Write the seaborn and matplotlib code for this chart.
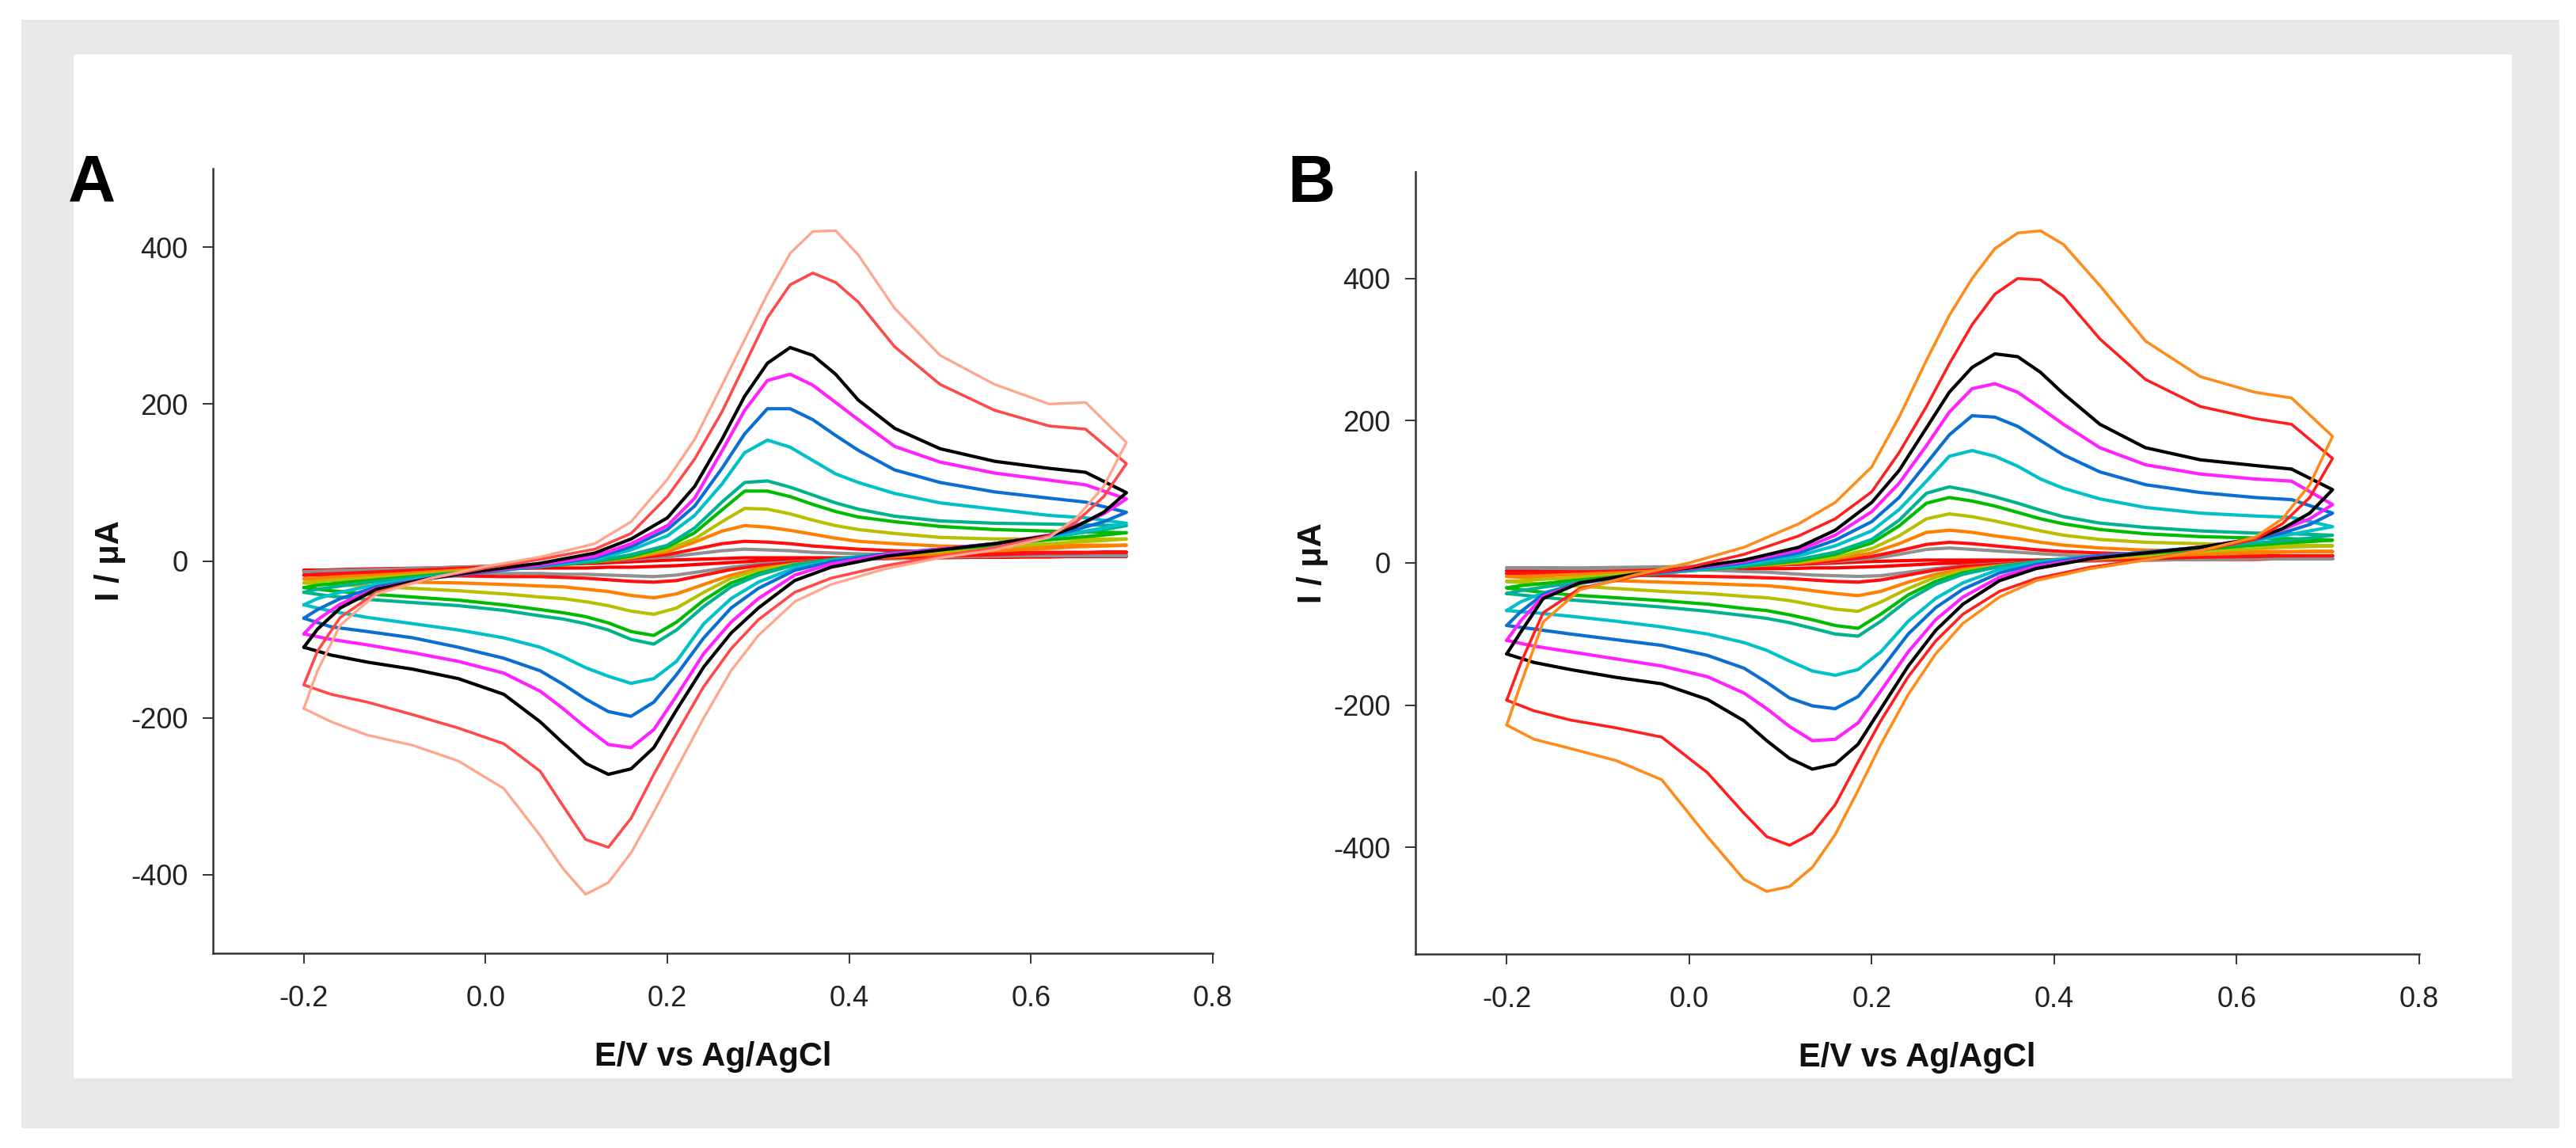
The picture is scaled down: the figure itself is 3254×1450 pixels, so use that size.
import matplotlib
matplotlib.use('Agg')
import matplotlib.pyplot as plt
from matplotlib.patches import Rectangle
import pandas as pd
import seaborn as sns

sns.set_theme(style='white')
plt.rcParams['font.family'] = ['Liberation Sans', 'DejaVu Sans']
plt.rcParams['axes.unicode_minus'] = False

# potential grid: forward scan (-0.2 -> 0.7 V) and reverse scan (0.7 -> -0.2 V)
E_FWD = [-0.2, -0.185, -0.16, -0.12, -0.06, 0.0, 0.06, 0.12, 0.16, 0.2, 0.23,
         0.26, 0.285, 0.31, 0.335, 0.36, 0.385, 0.41,
         0.45, 0.5, 0.56, 0.62, 0.66, 0.705]
E_REV = [0.705, 0.68, 0.65, 0.62, 0.56, 0.5, 0.44, 0.38, 0.34, 0.3, 0.27, 0.24,
         0.21, 0.185, 0.16, 0.135, 0.11, 0.085, 0.06,
         0.02, -0.03, -0.08, -0.13, -0.17, -0.2]

X_TICKS = [-0.2, 0.0, 0.2, 0.4, 0.6, 0.8]
Y_TICKS = [-400, -200, 0, 200, 400]

# ---- panel A currents (uA) ----
a_red1_fwd = [-12, -12, -11, -10, -9, -7, -5, -3, -1, 1, 2, 3, 4, 4, 4, 4, 4, 4, 5, 5, 5, 6, 6, 6]
a_red1_rev = [6, 6, 6, 5, 5, 4, 3, 2, 1, 0, -2, -4, -6, -7, -8, -8, -9, -9, -9, -10, -10, -11, -11, -12, -12]
a_gray_fwd = [-14, -13, -12, -11, -9, -7, -4, -1, 2, 5, 9, 13, 15, 14, 13, 11, 10, 9, 8, 7, 7, 7, 7, 7]
a_gray_rev = [7, 7, 7, 7, 6, 5, 3, 1, -1, -4, -8, -13, -18, -20, -19, -18, -17, -17, -16, -16, -15, -15, -15, -14, -14]
a_red2_fwd = [-18, -17, -16, -14, -11, -8, -5, -1, 3, 8, 15, 22, 25, 24, 22, 19, 17, 15, 13, 12, 11, 11, 11, 11]
a_red2_rev = [11, 11, 10, 10, 8, 6, 4, 1, -2, -6, -11, -18, -25, -27, -26, -24, -22, -21, -20, -20, -19, -19, -18, -18, -18]
a_orange_fwd = [-23, -22, -20, -18, -14, -10, -6, -1, 4, 12, 24, 38, 45, 43, 39, 34, 29, 25, 22, 19, 18, 19, 20, 20]
a_orange_rev = [20, 19, 18, 16, 13, 9, 5, 0, -4, -10, -18, -30, -42, -47, -44, -39, -36, -33, -32, -30, -28, -27, -25, -24, -23]
a_olive_fwd = [-28, -26, -24, -21, -16, -11, -6, -1, 5, 15, 28, 50, 67, 66, 60, 52, 45, 40, 35, 30, 28, 28, 28, 28]
a_olive_rev = [28, 26, 24, 22, 17, 12, 7, 1, -4, -12, -22, -40, -60, -68, -64, -57, -52, -48, -46, -42, -38, -35, -32, -30, -28]
a_green_fwd = [-34, -31, -28, -24, -18, -12, -7, -1, 6, 18, 36, 65, 89, 89, 82, 72, 63, 56, 50, 44, 40, 38, 37, 36]
a_green_rev = [36, 33, 30, 27, 20, 14, 8, 1, -5, -16, -28, -50, -78, -95, -90, -79, -71, -66, -62, -56, -50, -46, -42, -38, -34]
a_teal_fwd = [-40, -36, -32, -26, -19, -13, -7, 0, 8, 20, 42, 75, 100, 102, 94, 84, 74, 66, 57, 51, 48, 47, 46, 45]
a_teal_rev = [45, 40, 35, 30, 22, 15, 9, 2, -5, -18, -33, -58, -88, -106, -100, -88, -80, -74, -70, -63, -57, -53, -49, -45, -40]
a_cyan_fwd = [-56, -48, -40, -30, -21, -14, -7, 2, 14, 32, 58, 98, 138, 154, 145, 128, 111, 100, 86, 74, 66, 58, 55, 48]
a_cyan_rev = [48, 42, 36, 31, 22, 15, 9, 0, -9, -27, -48, -80, -128, -150, -156, -147, -136, -122, -110, -98, -88, -80, -72, -64, -56]
a_blue_fwd = [-73, -62, -48, -33, -22, -14, -6, 4, 18, 40, 70, 118, 162, 194, 194, 180, 160, 141, 116, 100, 88, 80, 75, 62]
a_blue_rev = [62, 50, 40, 32, 22, 15, 9, -1, -12, -35, -60, -98, -145, -180, -198, -192, -176, -157, -140, -124, -110, -98, -90, -84, -73]
a_magenta_fwd = [-93, -75, -55, -35, -22, -13, -5, 6, 22, 45, 80, 140, 192, 230, 238, 224, 202, 180, 146, 126, 112, 103, 97, 79]
a_magenta_rev = [79, 60, 45, 33, 22, 15, 8, -4, -18, -48, -78, -118, -172, -215, -238, -234, -212, -188, -166, -143, -128, -117, -107, -100, -93]
a_black_fwd = [-110, -87, -60, -36, -22, -12, -3, 10, 28, 55, 95, 155, 210, 252, 272, 262, 238, 205, 169, 143, 127, 118, 113, 87]
a_black_rev = [87, 62, 44, 32, 22, 14, 6, -8, -25, -60, -92, -135, -190, -238, -265, -272, -258, -232, -205, -170, -150, -138, -129, -120, -110]
a_red3_fwd = [-158, -115, -72, -40, -22, -9, 2, 15, 35, 82, 130, 190, 250, 310, 352, 367, 355, 330, 273, 225, 192, 172, 168, 124]
a_red3_rev = [124, 82, 50, 32, 17, 6, -6, -22, -40, -75, -112, -160, -220, -272, -328, -365, -355, -312, -268, -233, -213, -196, -180, -170, -158]
a_salmon_fwd = [-188, -140, -82, -42, -22, -7, 5, 22, 50, 104, 155, 224, 282, 340, 392, 420, 421, 390, 322, 262, 225, 200, 202, 151]
a_salmon_rev = [151, 95, 55, 30, 14, 4, -10, -30, -52, -95, -140, -200, -265, -320, -372, -410, -425, -392, -350, -290, -255, -235, -222, -205, -188]

# ---- panel B currents (uA) ----
b_red1_fwd = [-11, -11, -10, -9, -8, -6, -4, -2, 0, 2, 3, 4, 4, 4, 4, 4, 4, 5, 5, 5, 6, 6, 6, 6]
b_red1_rev = [6, 6, 6, 5, 5, 4, 3, 2, 1, 0, -1, -3, -5, -6, -7, -7, -8, -8, -8, -9, -9, -10, -10, -11, -11]
b_gray_fwd = [-7, -7, -7, -7, -6, -5, -3, -1, 2, 6, 12, 19, 21, 19, 17, 15, 13, 11, 9, 8, 7, 7, 6, 6]
b_gray_rev = [6, 6, 6, 6, 5, 4, 3, 1, -1, -4, -8, -13, -18, -19, -18, -17, -15, -13, -12, -10, -9, -8, -8, -7, -7]
b_red2_fwd = [-15, -15, -14, -13, -11, -8, -5, -1, 3, 9, 17, 26, 29, 27, 24, 21, 18, 16, 14, 12, 11, 10, 10, 10]
b_red2_rev = [10, 10, 10, 9, 8, 6, 4, 1, -2, -5, -10, -17, -24, -27, -26, -24, -22, -21, -20, -19, -18, -17, -16, -15, -15]
b_orange_fwd = [-19, -19, -18, -16, -13, -9, -5, 0, 6, 14, 27, 43, 46, 43, 38, 34, 29, 25, 21, 18, 17, 16, 16, 16]
b_orange_rev = [16, 16, 15, 14, 12, 9, 5, 0, -4, -9, -16, -27, -40, -46, -43, -39, -35, -32, -31, -29, -27, -25, -23, -21, -19]
b_olive_fwd = [-26, -25, -23, -20, -15, -10, -5, 1, 8, 20, 38, 62, 69, 65, 59, 52, 45, 39, 33, 29, 27, 25, 25, 24]
b_olive_rev = [24, 23, 22, 20, 16, 11, 6, 1, -4, -11, -20, -36, -55, -68, -65, -59, -53, -49, -47, -43, -40, -36, -32, -29, -26]
b_green_fwd = [-35, -32, -29, -24, -17, -11, -5, 3, 12, 28, 52, 84, 92, 87, 80, 71, 62, 55, 47, 41, 37, 35, 34, 32]
b_green_rev = [32, 30, 28, 25, 19, 13, 8, 1, -5, -14, -26, -45, -72, -92, -88, -80, -73, -67, -64, -58, -53, -49, -45, -40, -35]
b_teal_fwd = [-43, -39, -34, -27, -18, -11, -4, 5, 15, 33, 60, 98, 107, 101, 93, 84, 74, 65, 56, 50, 45, 42, 41, 39]
b_teal_rev = [39, 35, 31, 28, 21, 15, 9, 2, -5, -16, -30, -52, -82, -103, -100, -92, -84, -78, -74, -68, -62, -57, -52, -47, -43]
b_cyan_fwd = [-67, -55, -42, -29, -18, -10, -2, 10, 24, 45, 75, 115, 150, 158, 150, 136, 118, 105, 90, 78, 70, 66, 64, 51]
b_cyan_rev = [51, 45, 38, 32, 22, 15, 9, 0, -9, -28, -50, -82, -125, -150, -158, -152, -138, -123, -112, -100, -90, -82, -75, -70, -67]
b_blue_fwd = [-88, -69, -44, -28, -17, -9, 0, 14, 32, 58, 92, 140, 180, 207, 205, 192, 172, 152, 128, 110, 99, 92, 89, 70]
b_blue_rev = [70, 54, 42, 33, 22, 15, 9, -2, -14, -37, -63, -100, -150, -188, -205, -201, -190, -168, -148, -130, -116, -108, -100, -93, -88]
b_magenta_fwd = [-109, -82, -47, -28, -16, -8, 2, 18, 39, 72, 112, 165, 212, 245, 252, 240, 218, 195, 162, 138, 125, 118, 115, 82]
b_magenta_rev = [82, 62, 47, 34, 22, 14, 7, -5, -20, -48, -80, -125, -180, -225, -248, -250, -230, -205, -183, -160, -145, -135, -125, -117, -109]
b_black_fwd = [-128, -98, -50, -28, -16, -7, 4, 22, 46, 85, 130, 190, 240, 275, 294, 290, 268, 238, 195, 162, 145, 137, 132, 103]
b_black_rev = [103, 70, 48, 34, 22, 14, 6, -8, -25, -58, -95, -145, -205, -255, -283, -290, -275, -250, -222, -192, -170, -161, -150, -140, -128]
b_red3_fwd = [-193, -142, -70, -36, -19, -6, 12, 38, 62, 100, 155, 220, 280, 335, 378, 400, 398, 375, 315, 258, 220, 203, 195, 147]
b_red3_rev = [147, 92, 55, 33, 17, 5, -6, -22, -40, -72, -110, -160, -222, -280, -340, -380, -397, -385, -352, -295, -245, -232, -221, -208, -193]
b_orange2_fwd = [-228, -172, -83, -38, -17, 0, 22, 55, 85, 135, 205, 285, 348, 400, 442, 464, 467, 448, 390, 312, 262, 240, 232, 178]
b_orange2_rev = [178, 110, 62, 36, 17, 4, -8, -25, -48, -85, -128, -185, -255, -320, -382, -428, -455, -462, -445, -385, -305, -278, -261, -248, -228]

# (forward, reverse, colour, line width)
curves_a = [
    (a_red1_fwd, a_red1_rev, '#ff0000', 3.0),
    (a_gray_fwd, a_gray_rev, '#909090', 3.0),
    (a_red2_fwd, a_red2_rev, '#ff1010', 3.0),
    (a_orange_fwd, a_orange_rev, '#ff8000', 3.0),
    (a_olive_fwd, a_olive_rev, '#b8bf00', 3.0),
    (a_green_fwd, a_green_rev, '#00bb00', 3.0),
    (a_teal_fwd, a_teal_rev, '#00b38f', 3.0),
    (a_cyan_fwd, a_cyan_rev, '#00c0c8', 3.0),
    (a_blue_fwd, a_blue_rev, '#0a6fd0', 3.0),
    (a_magenta_fwd, a_magenta_rev, '#ff22ff', 3.0),
    (a_black_fwd, a_black_rev, '#000000', 3.0),
    (a_red3_fwd, a_red3_rev, '#ff4a4a', 2.6),
    (a_salmon_fwd, a_salmon_rev, '#ffa78c', 2.4),
]
curves_b = [
    (b_red1_fwd, b_red1_rev, '#ff0000', 3.0),
    (b_gray_fwd, b_gray_rev, '#909090', 3.0),
    (b_red2_fwd, b_red2_rev, '#ff1010', 3.0),
    (b_orange_fwd, b_orange_rev, '#ff8000', 3.0),
    (b_olive_fwd, b_olive_rev, '#b8bf00', 3.0),
    (b_green_fwd, b_green_rev, '#00bb00', 3.0),
    (b_teal_fwd, b_teal_rev, '#00b38f', 3.0),
    (b_cyan_fwd, b_cyan_rev, '#00c0c8', 3.0),
    (b_blue_fwd, b_blue_rev, '#0a6fd0', 3.0),
    (b_magenta_fwd, b_magenta_rev, '#ff22ff', 3.0),
    (b_black_fwd, b_black_rev, '#000000', 3.0),
    (b_red3_fwd, b_red3_rev, '#ff1f1f', 2.6),
    (b_orange2_fwd, b_orange2_rev, '#ff8c1a', 2.6),
]

W, H = 3255, 1450
fig = plt.figure(figsize=(W / 100, H / 100), dpi=100)
fig.patch.set_facecolor('white')

# grey frame with white inner panel (kept behind the axes)
fig.patches.append(Rectangle((27 / W, 1 - 1425 / H), (3233 - 27) / W, (1425 - 25) / H,
                             transform=fig.transFigure, facecolor='#e8e8e8', edgecolor='none', zorder=-3))
fig.patches.append(Rectangle((93 / W, 1 - 1362 / H), (3173 - 93) / W, (1362 - 69) / H,
                             transform=fig.transFigure, facecolor='white', edgecolor='none', zorder=-2))

ax_a = fig.add_axes([269 / W, 1 - 1204 / H, (1532 - 269) / W, (1204 - 213) / H])
ax_b = fig.add_axes([1788 / W, 1 - 1205 / H, (3056 - 1788) / W, (1205 - 217) / H])


def draw_panel(ax, curves, ylim, letter, letter_x):
    for fwd, rev, color, lw in curves:
        df = pd.DataFrame({'E': E_FWD + E_REV, 'I': fwd + rev})
        sns.lineplot(data=df, x='E', y='I', ax=ax, sort=False, estimator=None,
                     color=color, linewidth=lw, legend=False)
    ax.set_xlim(-0.3, 0.8)
    ax.set_ylim(*ylim)
    ax.set_xticks(X_TICKS)
    ax.set_xticklabels([f'{t:.1f}' for t in X_TICKS])
    ax.set_yticks(Y_TICKS)
    ax.set_yticklabels([str(t) for t in Y_TICKS])
    ax.set_facecolor('white')
    for s in ['top', 'right']:
        ax.spines[s].set_visible(False)
    for s in ['left', 'bottom']:
        ax.spines[s].set_color('#333333')
        ax.spines[s].set_linewidth(1.8)
    ax.tick_params(axis='both', direction='out', length=9.5, width=1.4, color='#333333',
                   labelsize=26, labelcolor='#222222', bottom=True, left=True)
    ax.tick_params(axis='x', pad=19)
    ax.tick_params(axis='y', pad=13)
    ax.set_xlabel('E/V vs Ag/AgCl', fontsize=30, fontweight='bold', color='#111111')
    ax.set_ylabel('I / μA', fontsize=30, fontweight='bold', color='#111111')
    ax.xaxis.set_label_coords(0.5, -0.112)
    ax.yaxis.set_label_coords(-0.087, 0.5)
    fig.text(letter_x / W, 1 - 255 / H, letter, fontsize=60, fontweight='bold',
             ha='left', va='baseline', color='black')


draw_panel(ax_a, curves_a, (-500, 500), 'A', 86)
draw_panel(ax_b, curves_b, (-550, 550), 'B', 1626)

fig.savefig('out.png', dpi=100, facecolor='white')
